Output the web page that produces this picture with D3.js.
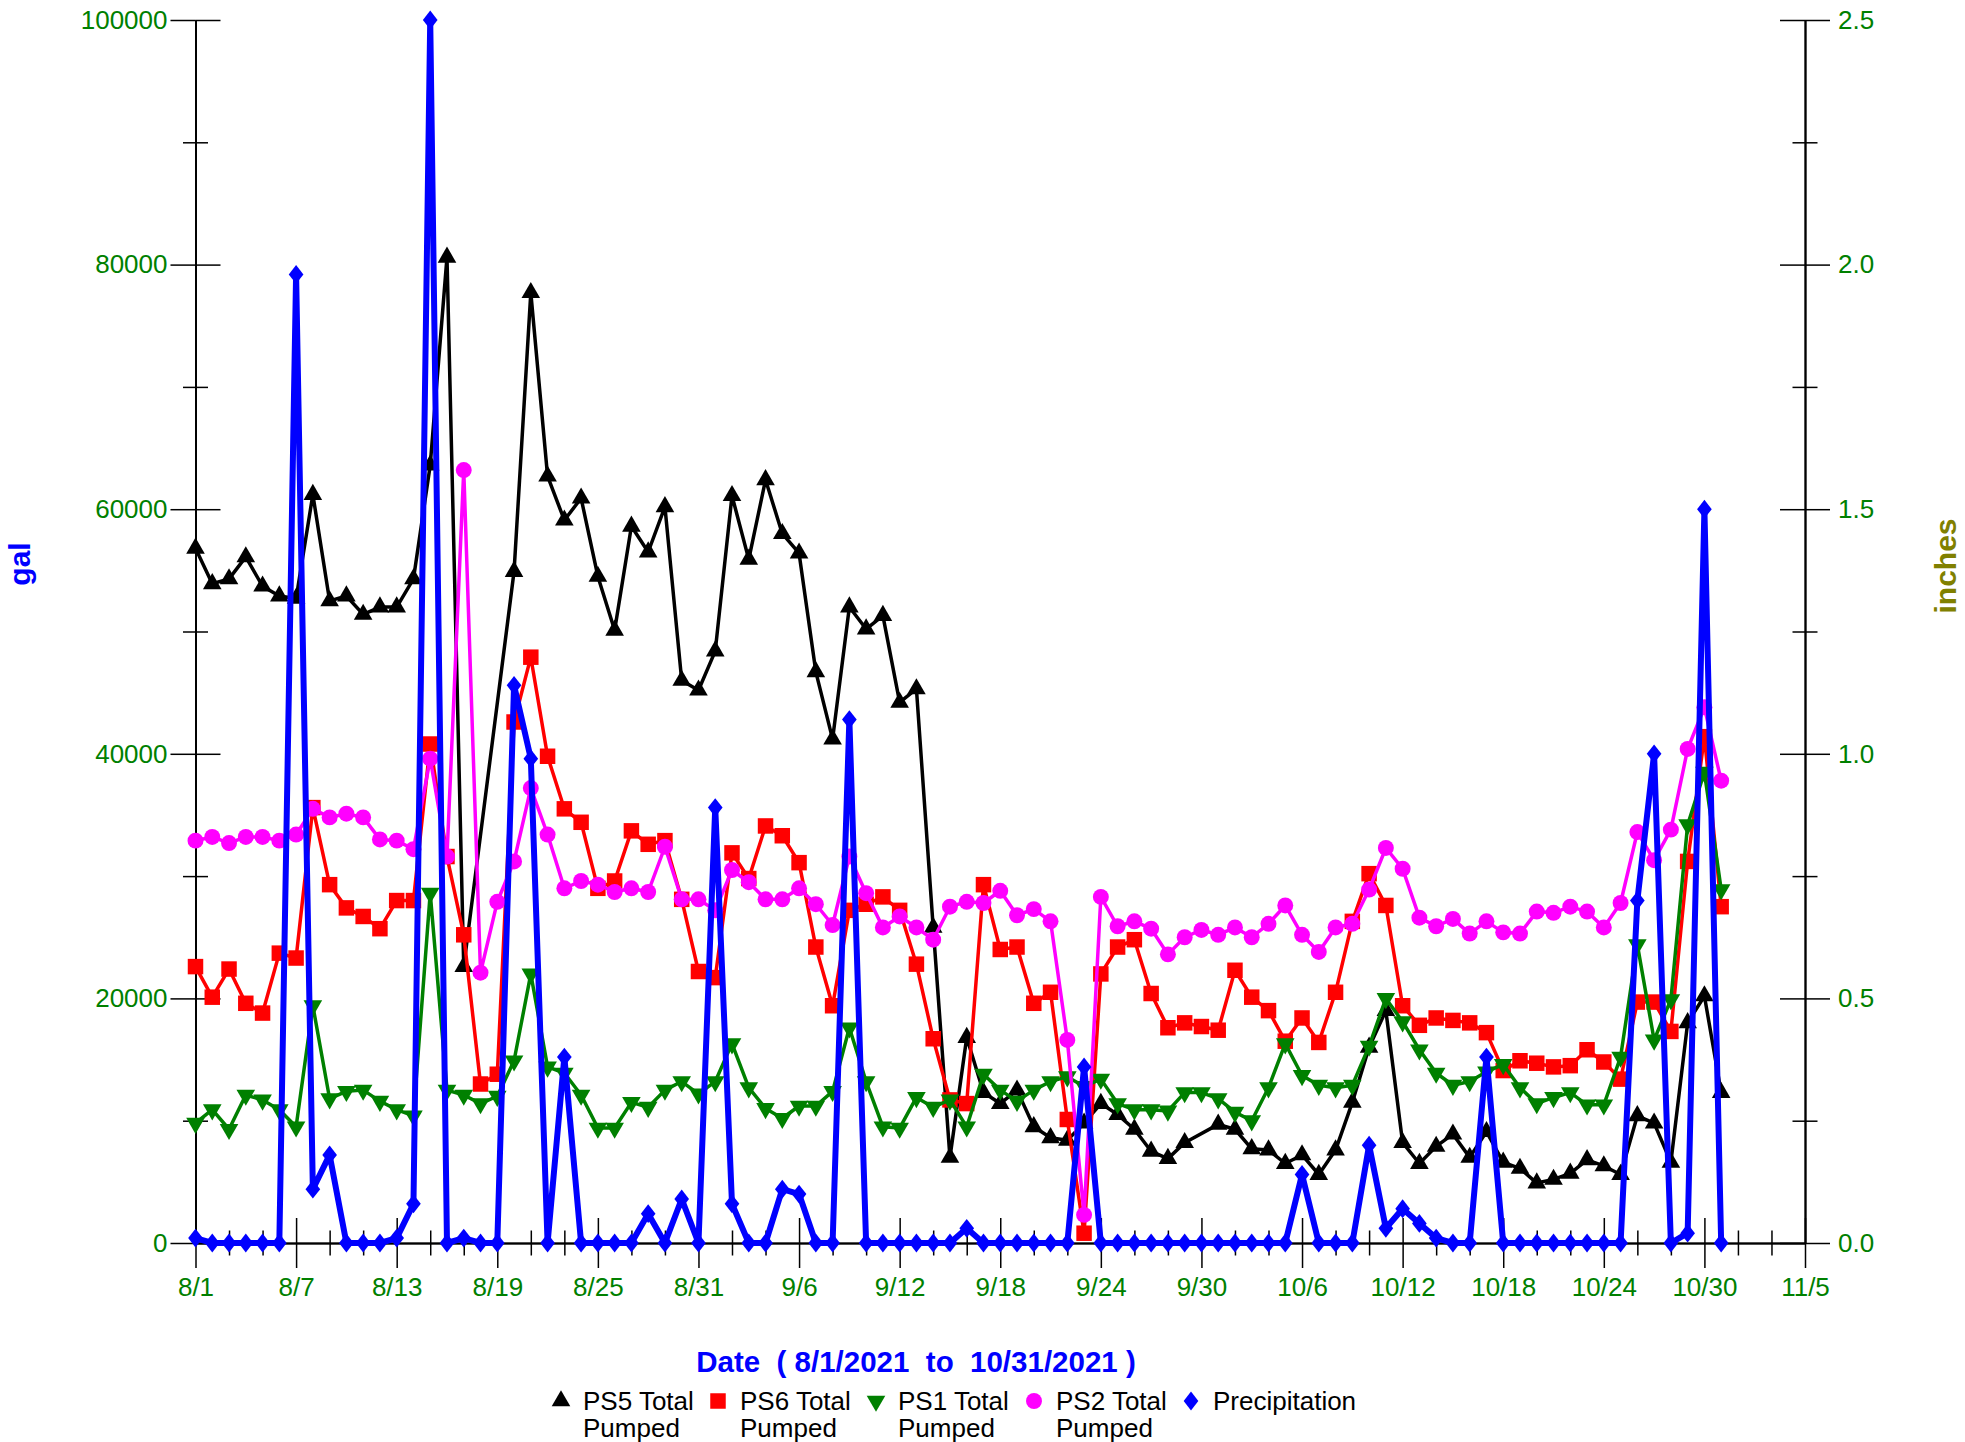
<!DOCTYPE html>
<html>
<head>
<meta charset="utf-8">
<script src="https://cdn.jsdelivr.net/npm/d3@7"></script>
<style>
body { margin: 0; background: #fff; }
svg { display: block; font-family: "Liberation Sans", Arial, sans-serif; }
</style>
</head>
<body>
<svg id="chart" width="1965" height="1442"></svg>
<script>
let firstDay = Date.UTC(2021, 7, 1);
let lastDay = Date.UTC(2021, 9, 31);
let axisEnd = Date.UTC(2021, 10, 5);

let ps5 = [56800, 53900, 54300, 56100, 53700, 52900, 52700, 61200, 52500, 52900,
    51400, 52000, 52000, 54300, 63600, 80600, 22600, null, null, 54900,
    77700, 62700, 59100, 60900, 54500, 50100, 58600, 56500, 60200, 46000,
    45200, 48400, 61100, 55900, 62400, 58000, 56400, 46700, 41200, 52000,
    50200, 51300, 44200, 45300, 25800, 7000, 16800, 12300, 11400, 12500,
    9500, 8600, 8400, 9800, 11400, 10500, 9300, 7500, 6900, 8200,
    null, 9700, 9300, 7700, 7600, 6500, 7200, 5600, 7600, 11500,
    16000, 19000, 8200, 6500, 7900, 8900, 7000, 9100, 6600, 6100,
    4900, 5200, 5700, 6800, 6300, 5600, 10400, 9800, 6600, 18000,
    20200, 12300];

let ps6 = [22600, 20100, 22400, 19600, 18800, 23700, 23300, 35600, 29300, 27400,
    26700, 25700, 28000, 28000, 40800, 31600, 25200, 13000, 13800, 42600,
    47900, 39800, 35500, 34400, 29000, 29600, 33700, 32600, 32900, 28100,
    22200, 21700, 31900, 29800, 34100, 33300, 31100, 24200, 19400, 27200,
    27700, 28300, 27200, 22800, 16700, 11700, 11400, 29300, 24000, 24200,
    19600, 20500, 10100, 800, 22000, 24200, 24800, 20400, 17600, 18000,
    17700, 17400, 22300, 20100, 19000, 16500, 18400, 16400, 20500, 26300,
    30200, 27600, 19400, 17800, 18400, 18200, 18000, 17200, 14100, 14900,
    14700, 14400, 14500, 15800, 14800, 13400, 19700, 19700, 17300, 31200,
    41400, 27500];

let ps1 = [9800, 10900, 9300, 12100, 11700, 10900, 9500, 19400, 11800, 12400,
    12500, 11600, 10900, 10400, 28600, 12500, 12100, 11400, 12000, 14900,
    22000, 14400, 13900, 12100, 9400, 9400, 11500, 11100, 12500, 13200,
    12200, 13200, 16300, 12700, 11000, 10200, 11200, 11200, 12400, 17600,
    13200, 9500, 9400, 11900, 11100, 11700, 9500, 13800, 12500, 11600,
    12500, 13200, 13600, 12800, 13400, 11400, 10900, 10900, 10800, 12300,
    12300, 11800, 10700, 10000, 12700, 16300, 13700, 12900, 12700, 12900,
    16100, 20000, 18100, 15800, 13900, 12900, 13200, 14000, 14600, 12700,
    11400, 11900, 12300, 11300, 11300, 15200, 24400, 16600, 19900, 34200,
    38500, 28900];

let ps2 = [32900, 33200, 32700, 33200, 33200, 32900, 33400, 35500, 34800, 35100,
    34800, 33000, 32900, 32200, 39600, 31600, 63200, 22100, 27900, 31200,
    37200, 33400, 29000, 29600, 29300, 28700, 29000, 28700, 32400, 28100,
    28100, 27200, 30500, 29500, 28100, 28100, 29000, 27700, 26000, 31600,
    28600, 25800, 26700, 25800, 24800, 27500, 27900, 27800, 28800, 26800,
    27300, 26300, 16600, 2300, 28300, 25900, 26300, 25700, 23600, 25000,
    25600, 25200, 25800, 25000, 26100, 27600, 25200, 23800, 25800, 26100,
    28900, 32300, 30600, 26600, 25900, 26500, 25300, 26300, 25400, 25300,
    27100, 27000, 27500, 27100, 25800, 27800, 33600, 31300, 33800, 40400,
    43800, 37800];

let precip = [0.01, 0, 0, 0, 0, 0, 1.98, 0.11, 0.18, 0,
    0, 0, 0.01, 0.08, 2.5, 0, 0.01, 0, 0, 1.14,
    0.99, 0, 0.38, 0, 0, 0, 0, 0.06, 0, 0.09,
    0, 0.89, 0.08, 0, 0, 0.11, 0.10, 0, 0, 1.07,
    0, 0, 0, 0, 0, 0, 0.03, 0, 0, 0,
    0, 0, 0, 0.36, 0, 0, 0, 0, 0, 0,
    0, 0, 0, 0, 0, 0, 0.14, 0, 0, 0,
    0.20, 0.03, 0.07, 0.04, 0.01, 0, 0, 0.38, 0, 0,
    0, 0, 0, 0, 0, 0, 0.70, 1.0, 0, 0.02,
    1.5, 0];

let galTicks = [0, 20000, 40000, 60000, 80000, 100000];
let galMinor = [10000, 30000, 50000, 70000, 90000];
let inchTicks = [0, 0.5, 1.0, 1.5, 2.0, 2.5];
let inchMinor = [0.25, 0.75, 1.25, 1.75, 2.25];

let seriesNames = ["PS5 Total", "PS6 Total", "PS1 Total", "PS2 Total", "Precipitation"];
let seriesColors = ["#000000", "#ff0000", "#008000", "#ff00ff", "#0000ff"];

let dates = d3.utcDay.range(new Date(firstDay), new Date(lastDay + 1));
let majorDates = d3.utcDay.range(new Date(firstDay), new Date(axisEnd + 1), 6);
let minorDates = d3.utcDay.range(new Date(firstDay), new Date(axisEnd + 1), 2)
    .filter((d) => !majorDates.some((m) => +m === +d));

let plotLeft = 195.5, plotRight = 1805, plotTop = 20, plotBottom = 1243;
let font = 26;
let tickGreen = "#008000";

let x = d3.scaleUtc().domain([new Date(firstDay), new Date(axisEnd)]).range([plotLeft, plotRight]);
let yGal = d3.scaleLinear().domain([0, 100000]).range([plotBottom, plotTop]);
let yInch = d3.scaleLinear().domain([0, 2.5]).range([plotBottom, plotTop]);

let svg = d3.select("#chart");
svg.append("rect").attr("width", 1965).attr("height", 1442).attr("fill", "#fff");

function styleAxis(g, showText) {
    g.selectAll("path, line").attr("stroke", "#000").attr("stroke-width", 1.5);
    g.selectAll("text")
        .attr("fill", tickGreen)
        .attr("font-size", font)
        .attr("font-family", "'Liberation Sans', Arial, sans-serif")
        .style("display", showText ? null : "none");
}

function addAxis(axis, tx, ty, showText) {
    svg.append("g")
        .attr("transform", `translate(${tx},${ty})`)
        .call(axis)
        .call((g) => styleAxis(g, showText));
}

// left axis
addAxis(d3.axisLeft(yGal).tickValues(galTicks).tickSize(25).tickSizeOuter(0).tickPadding(3).tickFormat(d3.format("d")), plotLeft, 0, true);
addAxis(d3.axisRight(yGal).tickValues(galTicks).tickSize(25).tickSizeOuter(0), plotLeft, 0, false);
addAxis(d3.axisLeft(yGal).tickValues(galMinor).tickSize(12.5).tickSizeOuter(0), plotLeft, 0, false);
addAxis(d3.axisRight(yGal).tickValues(galMinor).tickSize(12.5).tickSizeOuter(0), plotLeft, 0, false);

// right axis
addAxis(d3.axisRight(yInch).tickValues(inchTicks).tickSize(25).tickSizeOuter(0).tickPadding(8).tickFormat(d3.format(".1f")), plotRight, 0, true);
addAxis(d3.axisLeft(yInch).tickValues(inchTicks).tickSize(25).tickSizeOuter(0), plotRight, 0, false);
addAxis(d3.axisRight(yInch).tickValues(inchMinor).tickSize(12.5).tickSizeOuter(0), plotRight, 0, false);
addAxis(d3.axisLeft(yInch).tickValues(inchMinor).tickSize(12.5).tickSizeOuter(0), plotRight, 0, false);

// bottom axis
addAxis(d3.axisBottom(x).tickValues(majorDates).tickSize(25).tickSizeOuter(0).tickPadding(10).tickFormat(d3.utcFormat("%-m/%-d")), 0, plotBottom, true);
addAxis(d3.axisTop(x).tickValues(majorDates).tickSize(25).tickSizeOuter(0), 0, plotBottom, false);
addAxis(d3.axisBottom(x).tickValues(minorDates).tickSize(12.5).tickSizeOuter(0), 0, plotBottom, false);
addAxis(d3.axisTop(x).tickValues(minorDates).tickSize(12.5).tickSizeOuter(0), 0, plotBottom, false);

let diamond = {
    draw(context, size) {
        let h = Math.sqrt(size) * 0.62;
        let w = h * 0.78;
        context.moveTo(0, -h);
        context.lineTo(w, 0);
        context.lineTo(0, h);
        context.lineTo(-w, 0);
        context.closePath();
    }
};

let markers = [
    { type: d3.symbolTriangle, size: 150, rot: 0 },
    { type: d3.symbolSquare, size: 240, rot: 0 },
    { type: d3.symbolTriangle, size: 150, rot: 180 },
    { type: d3.symbolCircle, size: 200, rot: 0 },
    { type: diamond, size: 230, rot: 0 }
];

function drawSeries(values, yScale, i, width) {
    let pts = dates.map((d, k) => ({ date: d, value: values[k] }))
        .filter((d) => d.value !== null);
    let line = d3.line().x((d) => x(d.date)).y((d) => yScale(d.value));

    svg.append("path")
        .datum(pts)
        .attr("d", line)
        .attr("fill", "none")
        .attr("stroke", seriesColors[i])
        .attr("stroke-width", width)
        .attr("stroke-linejoin", "round");

    svg.append("g").selectAll("path")
        .data(pts)
        .join("path")
        .attr("transform", (d) => `translate(${x(d.date)},${yScale(d.value)}) rotate(${markers[i].rot})`)
        .attr("d", d3.symbol(markers[i].type, markers[i].size))
        .attr("fill", seriesColors[i]);
}

drawSeries(ps5, yGal, 0, 3.5);
drawSeries(ps6, yGal, 1, 3.5);
drawSeries(ps1, yGal, 2, 3.5);
drawSeries(ps2, yGal, 3, 3.5);
drawSeries(precip, yInch, 4, 6);

// titles
svg.append("text")
    .attr("transform", "translate(30,564) rotate(-90)")
    .attr("text-anchor", "middle")
    .attr("font-size", 30)
    .attr("font-weight", "bold")
    .attr("fill", "#0000ff")
    .text("gal");

svg.append("text")
    .attr("transform", "translate(1956,566) rotate(-90)")
    .attr("text-anchor", "middle")
    .attr("font-size", 30)
    .attr("font-weight", "bold")
    .attr("fill", "#808000")
    .text("inches");

svg.append("text")
    .attr("x", 916)
    .attr("y", 1372)
    .attr("text-anchor", "middle")
    .attr("font-size", 29.5)
    .attr("font-weight", "bold")
    .attr("fill", "#0000ff")
    .style("white-space", "pre")
    .text("Date  ( 8/1/2021  to  10/31/2021 )");

// legend
let legendX = [583, 740, 898, 1056, 1213];
seriesNames.forEach((name, i) => {
    let g = svg.append("g");
    g.append("path")
        .attr("transform", `translate(${legendX[i] - 22},1401) rotate(${markers[i].rot})`)
        .attr("d", d3.symbol(markers[i].type, markers[i].size))
        .attr("fill", seriesColors[i]);
    g.append("text")
        .attr("x", legendX[i])
        .attr("y", 1410)
        .attr("font-size", font)
        .attr("fill", "#000")
        .text(name);
    if (i < 4) {
        g.append("text")
            .attr("x", legendX[i])
            .attr("y", 1437)
            .attr("font-size", font)
            .attr("fill", "#000")
            .text("Pumped");
    }
});
</script>
</body>
</html>
